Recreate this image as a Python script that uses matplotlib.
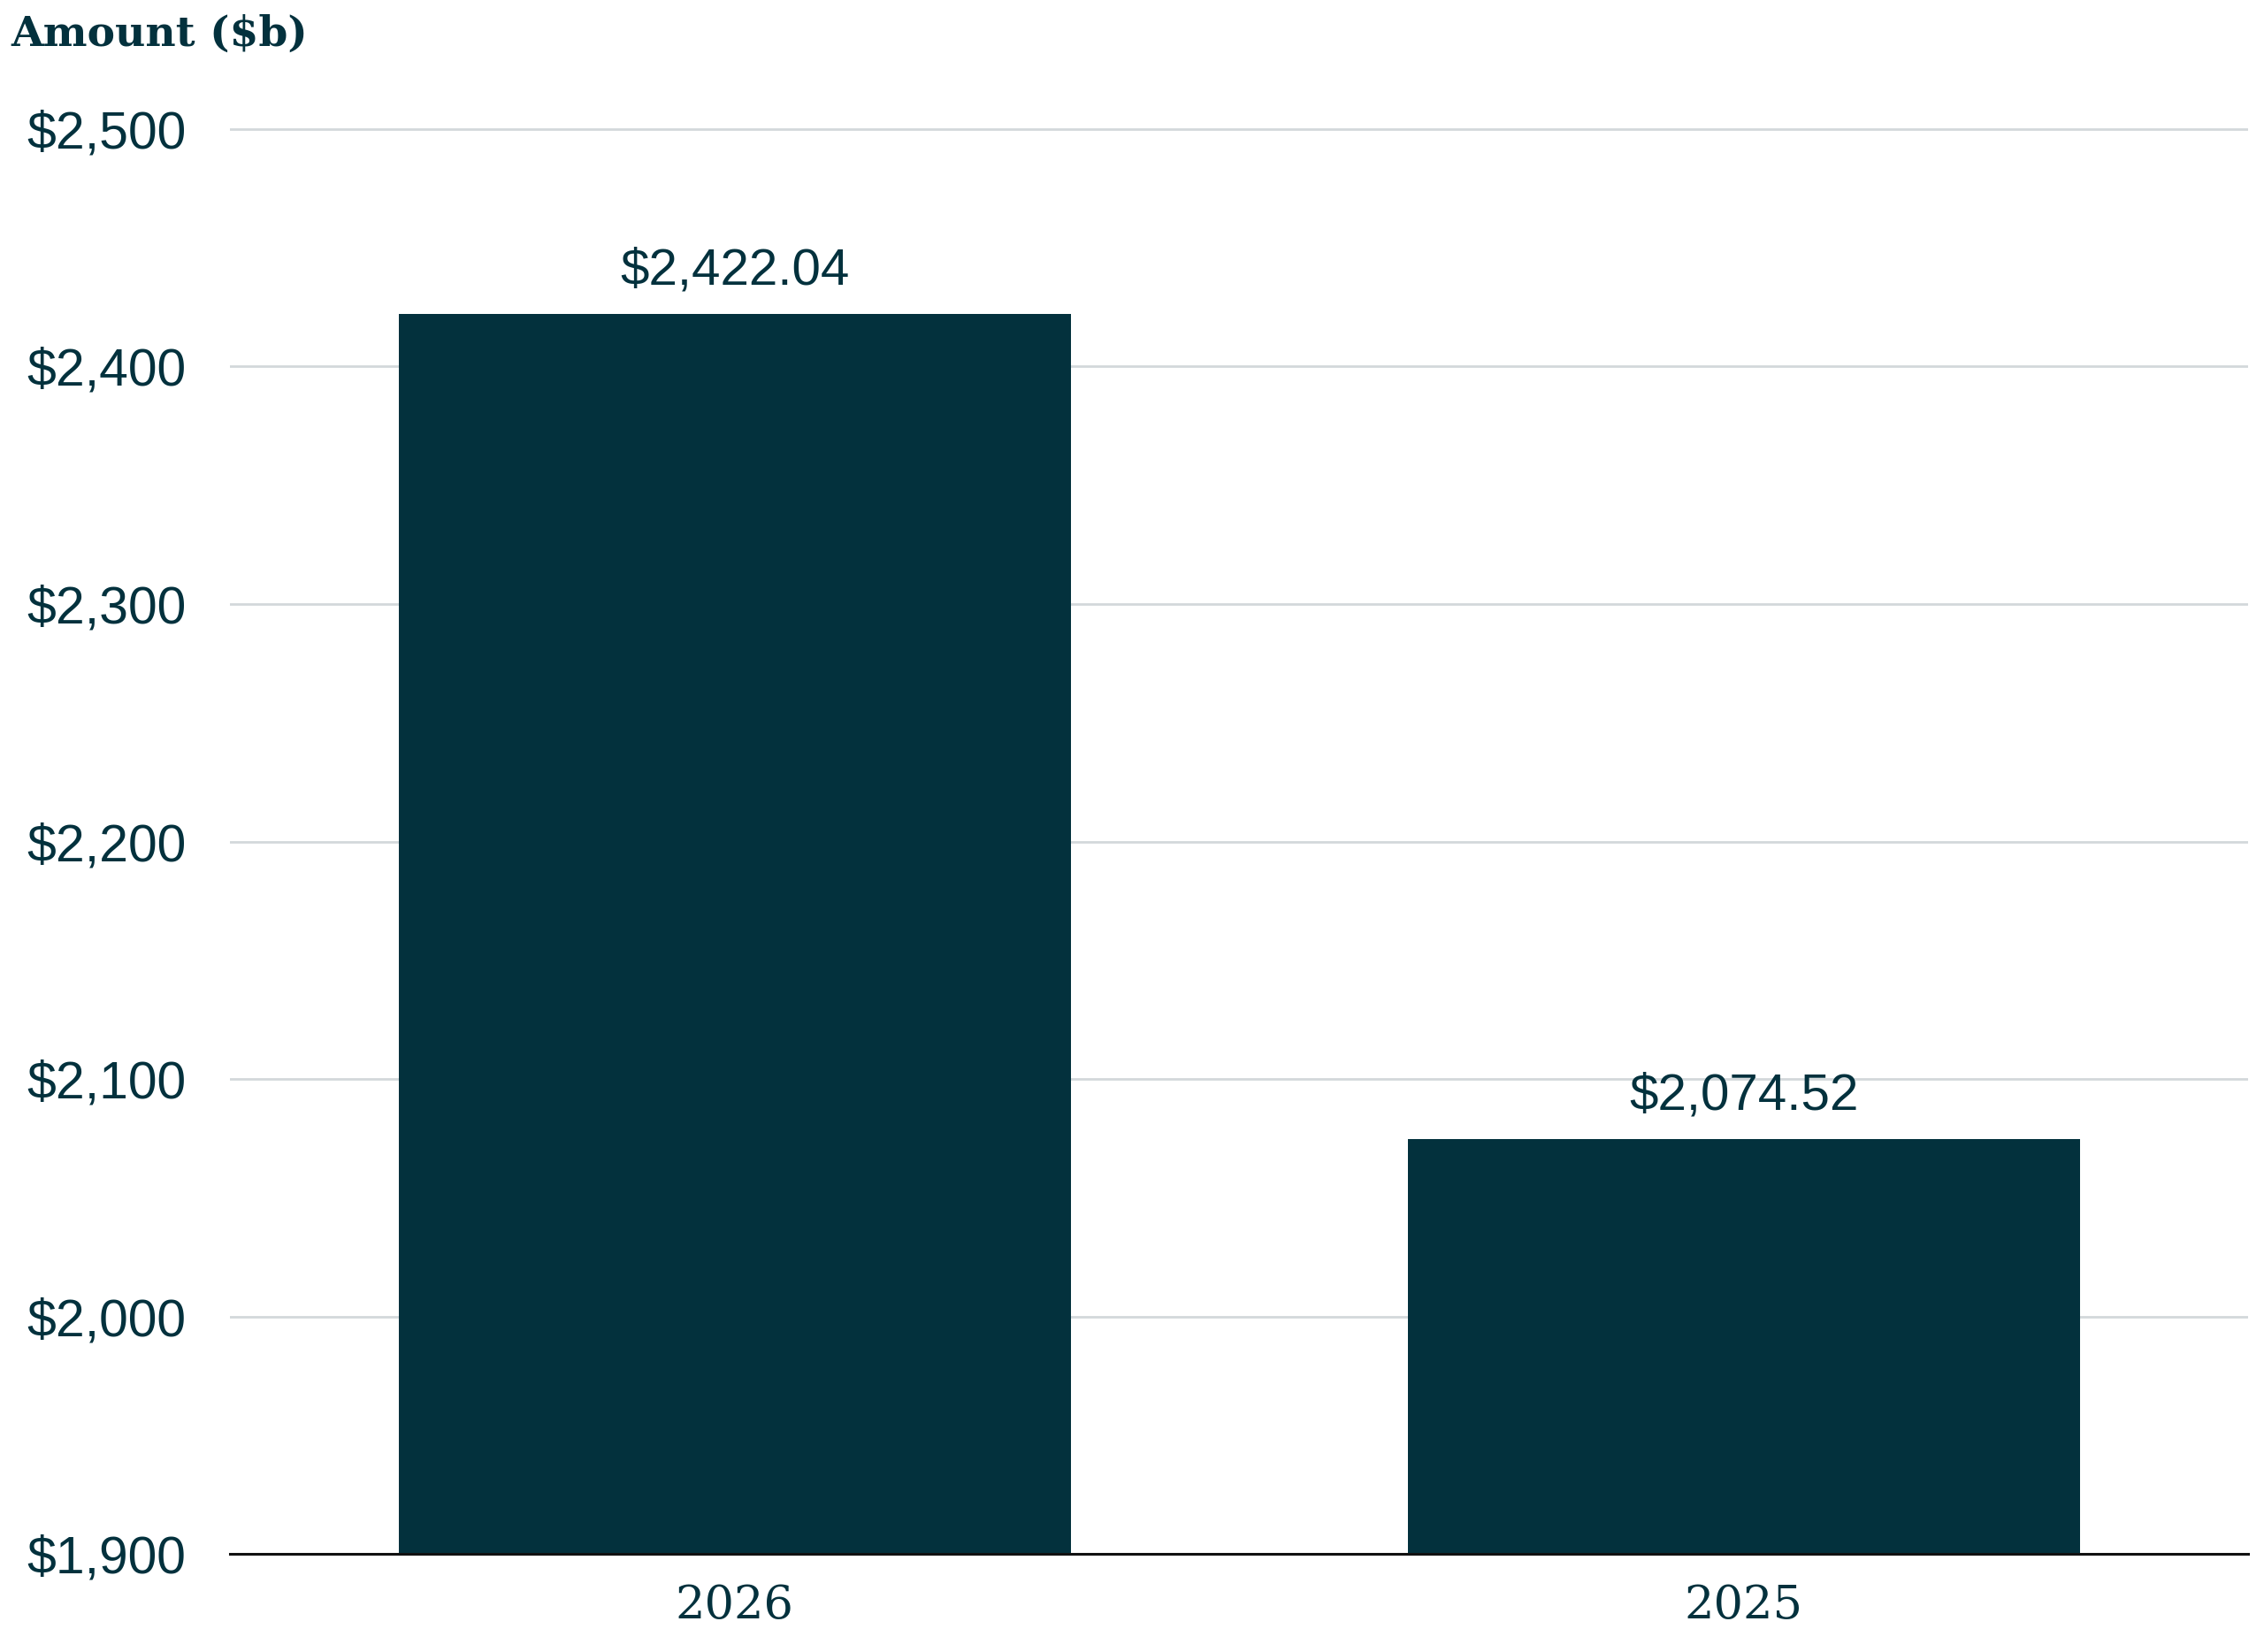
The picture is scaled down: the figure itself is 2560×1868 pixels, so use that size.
import matplotlib
matplotlib.use("Agg")
import matplotlib.pyplot as plt

categories = ["2026", "2025"]
values = [2422.04, 2074.52]
yticks = [1900, 2000, 2100, 2200, 2300, 2400, 2500]
ytick_labels = ["$1,900", "$2,000", "$2,100", "$2,200", "$2,300", "$2,400", "$2,500"]
bar_labels = ["$2,422.04", "$2,074.52"]

DARK = "#03313D"

fig = plt.figure(figsize=(12.8, 9.34), dpi=200)
ax = fig.add_axes([0.1016, 0.0594, 0.993 - 0.1016, 0.9506 - 0.0594])

x = list(range(len(categories)))
bars = ax.bar(x, values, width=0.666, color=DARK, zorder=3)

ax.set_xlim(-0.5, 1.5)
ax.set_ylim(1900, 2520)
ax.set_yticks(yticks)
ax.set_yticklabels(ytick_labels, fontfamily="Liberation Sans", fontsize=21.2, color=DARK)
ax.set_xticks(x)
ax.set_xticklabels(categories, fontfamily="DejaVu Serif", fontsize=19, color=DARK)
ax.tick_params(axis="y", length=0, pad=18)
ax.tick_params(axis="x", length=0, pad=12)

ax.grid(axis="y", color="#D3D8DB", linewidth=1.0, zorder=0)
ax.set_axisbelow(True)
for s in ["top", "right", "left"]:
    ax.spines[s].set_visible(False)
ax.spines["bottom"].set_color("#111111")
ax.spines["bottom"].set_linewidth(1.1)
ax.spines["bottom"].set_zorder(4)

ax.bar_label(bars, labels=bar_labels, padding=8, fontfamily="Liberation Sans",
             fontsize=21, color=DARK)

fig.text(0.005, 0.9722, "Amount ($b)", fontfamily="DejaVu Serif", fontweight="bold",
         fontsize=17, color=DARK, va="baseline", ha="left")

fig.savefig("out.png", dpi=200, facecolor="white")
